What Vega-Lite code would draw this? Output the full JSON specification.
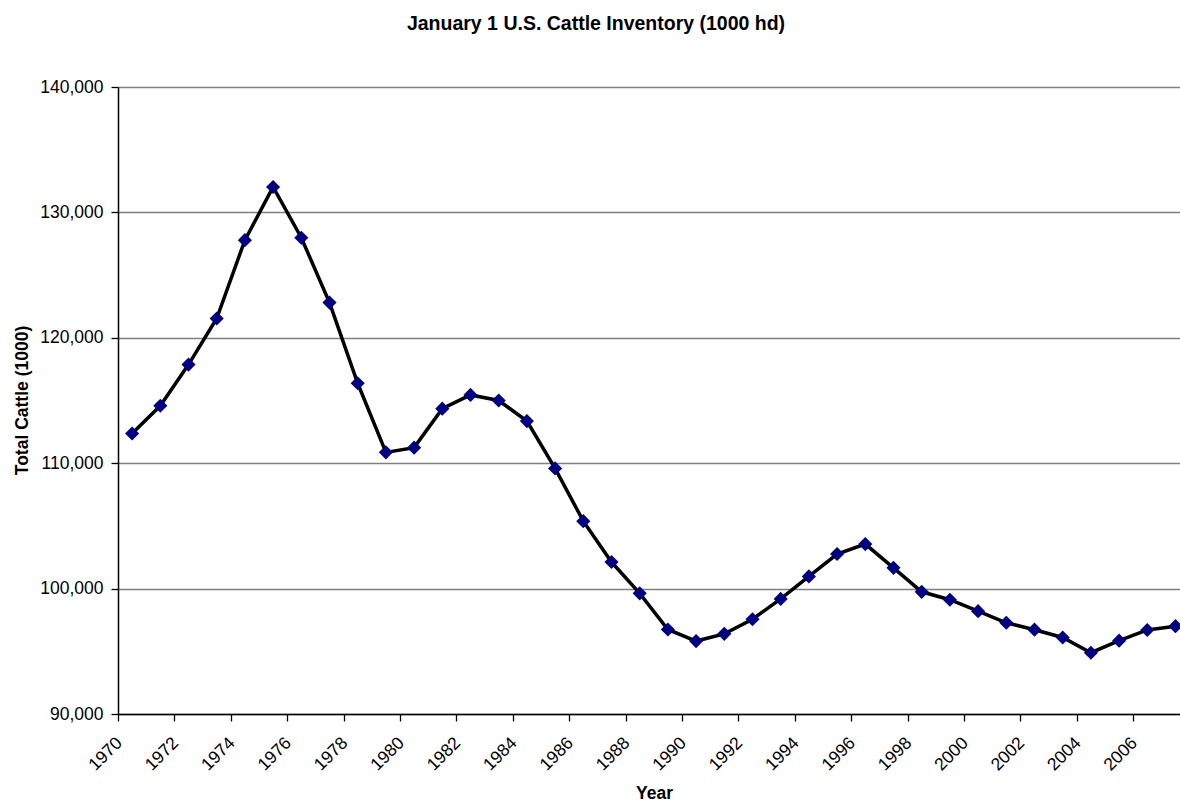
{
  "$schema": "https://vega.github.io/schema/vega-lite/v6.json",
  "autosize": "none",
  "width": 1062,
  "height": 627,
  "padding": {"left": 118, "top": 87, "right": 0, "bottom": 87},
  "background": "white",
  "config": {
    "view": {"stroke": null},
    "font": "Liberation Sans"
  },
  "title": {
    "text": "January 1 U.S. Cattle Inventory (1000 hd)",
    "font": "Liberation Sans",
    "fontSize": 19.5,
    "fontWeight": "bold",
    "color": "black",
    "anchor": "middle",
    "baseline": "alphabetic",
    "offset": 29,
    "dx": -53
  },
  "data": {
    "values": [
      {"Year": 1970, "Cattle": 112369},
      {"Year": 1971, "Cattle": 114578},
      {"Year": 1972, "Cattle": 117862},
      {"Year": 1973, "Cattle": 121539},
      {"Year": 1974, "Cattle": 127788},
      {"Year": 1975, "Cattle": 132028},
      {"Year": 1976, "Cattle": 127980},
      {"Year": 1977, "Cattle": 122810},
      {"Year": 1978, "Cattle": 116375},
      {"Year": 1979, "Cattle": 110864},
      {"Year": 1980, "Cattle": 111242},
      {"Year": 1981, "Cattle": 114351},
      {"Year": 1982, "Cattle": 115444},
      {"Year": 1983, "Cattle": 115001},
      {"Year": 1984, "Cattle": 113360},
      {"Year": 1985, "Cattle": 109582},
      {"Year": 1986, "Cattle": 105378},
      {"Year": 1987, "Cattle": 102118},
      {"Year": 1988, "Cattle": 99622},
      {"Year": 1989, "Cattle": 96740},
      {"Year": 1990, "Cattle": 95816},
      {"Year": 1991, "Cattle": 96393},
      {"Year": 1992, "Cattle": 97556},
      {"Year": 1993, "Cattle": 99176},
      {"Year": 1994, "Cattle": 100974},
      {"Year": 1995, "Cattle": 102755},
      {"Year": 1996, "Cattle": 103548},
      {"Year": 1997, "Cattle": 101656},
      {"Year": 1998, "Cattle": 99744},
      {"Year": 1999, "Cattle": 99115},
      {"Year": 2000, "Cattle": 98199},
      {"Year": 2001, "Cattle": 97277},
      {"Year": 2002, "Cattle": 96723},
      {"Year": 2003, "Cattle": 96100},
      {"Year": 2004, "Cattle": 94888},
      {"Year": 2005, "Cattle": 95848},
      {"Year": 2006, "Cattle": 96702},
      {"Year": 2007, "Cattle": 97003}
    ]
  },
  "encoding": {
    "x": {
      "field": "Year",
      "type": "quantitative",
      "scale": {"domain": [1969.5, 2007.16], "nice": false, "zero": false},
      "axis": {
        "title": "Year",
        "titleFont": "Liberation Sans",
        "titleFontSize": 17.5,
        "titleFontWeight": "bold",
        "titleColor": "black",
        "titleX": 536,
        "titleY": 84,
        "titleBaseline": "alphabetic",
        "titleAnchor": "start",
        "titleAlign": "center",
        "values": [1969.5, 1971.5, 1973.5, 1975.5, 1977.5, 1979.5, 1981.5, 1983.5, 1985.5, 1987.5, 1989.5, 1991.5, 1993.5, 1995.5, 1997.5, 1999.5, 2001.5, 2003.5, 2005.5],
        "labelExpr": "format(datum.value + 0.5, 'd')",
        "labelAngle": -45,
        "labelAlign": "right",
        "labelBaseline": "middle",
        "labelOffset": 1,
        "labelPadding": 19,
        "labelFont": "Liberation Sans",
        "labelFontSize": 17.5,
        "labelColor": "black",
        "labelOverlap": false,
        "labelFlush": false,
        "labelBound": false,
        "tickSize": 7,
        "tickColor": "black",
        "tickWidth": 1.3,
        "domainColor": "black",
        "domainWidth": 1.5,
        "grid": false
      }
    },
    "y": {
      "field": "Cattle",
      "type": "quantitative",
      "scale": {"domain": [90000, 140000], "nice": false, "zero": false},
      "axis": {
        "title": "Total Cattle (1000)",
        "titleFont": "Liberation Sans",
        "titleFontSize": 17.5,
        "titleFontWeight": "bold",
        "titleColor": "black",
        "titleAngle": -90,
        "titleX": -96,
        "titleY": 313,
        "titleAlign": "center",
        "titleBaseline": "middle",
        "values": [90000, 100000, 110000, 120000, 130000, 140000],
        "format": ",d",
        "labelFont": "Liberation Sans",
        "labelFontSize": 17.5,
        "labelColor": "black",
        "labelPadding": 8,
        "tickSize": 7,
        "tickColor": "black",
        "tickWidth": 1.3,
        "domainColor": "black",
        "domainWidth": 1.5,
        "grid": true,
        "gridColor": "#808080",
        "gridWidth": 1.3
      }
    }
  },
  "layer": [
    {
      "mark": {"type": "line", "color": "black", "strokeWidth": 3.5, "clip": true}
    },
    {
      "mark": {"type": "point", "shape": "diamond", "filled": true, "size": 200, "color": "#000080", "opacity": 1, "clip": true}
    }
  ]
}
